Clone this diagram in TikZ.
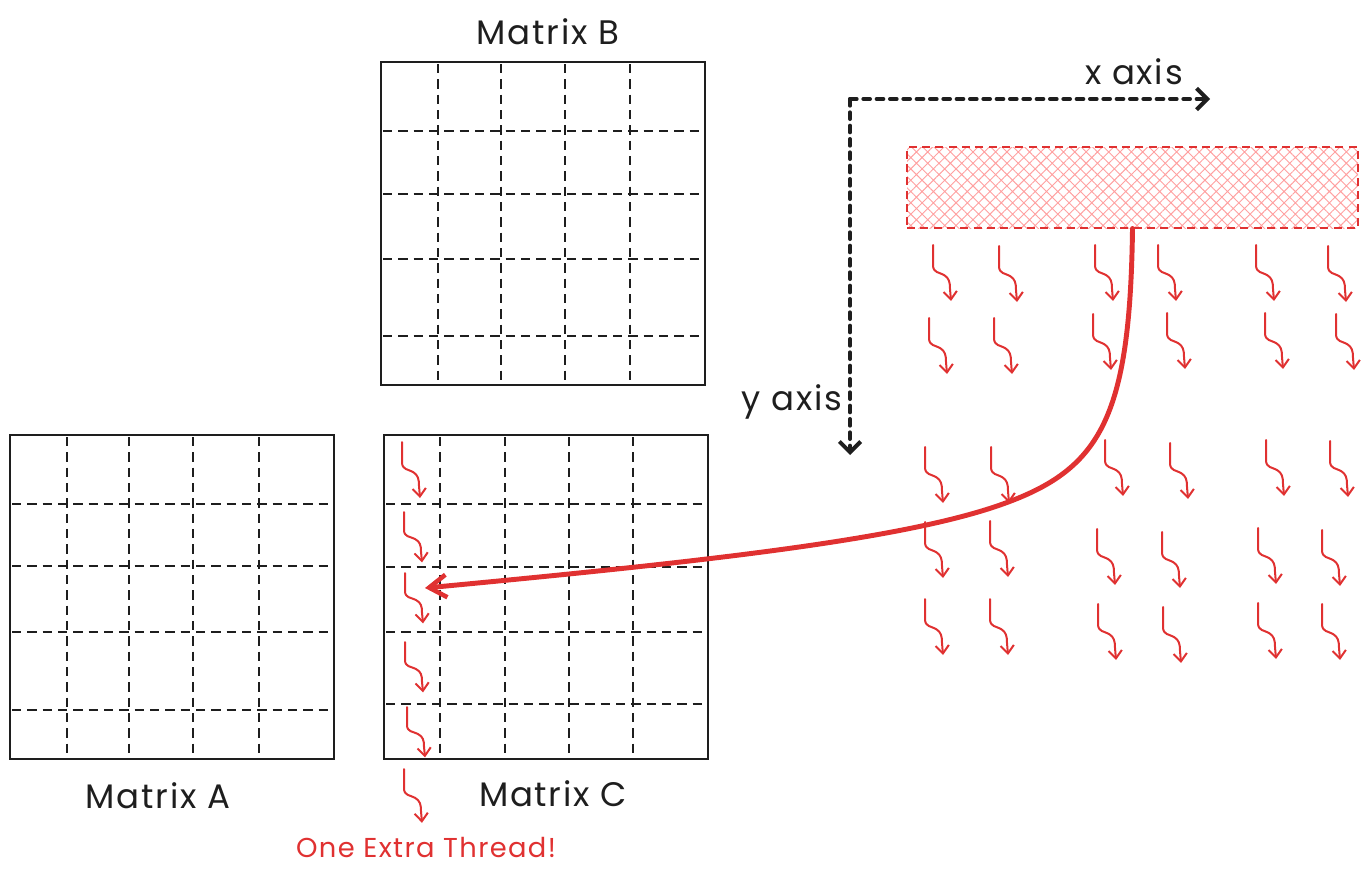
\documentclass[tikz,border=0pt]{standalone}
\usepackage{fontspec}
\setmainfont{Poppins}[LetterSpace=5]
\usetikzlibrary{arrows.meta,patterns.meta,fit}
\definecolor{exred}{HTML}{E03131}
\definecolor{expink}{HTML}{FFA0A0}
\definecolor{exblack}{HTML}{1E1E1E}
\begin{document}
\begin{tikzpicture}[x=0.75pt,y=-0.75pt,
  box/.style={draw=exblack, line width=1.8pt, inner sep=0pt},
  gridline/.style={draw=exblack, line width=1.7pt, dash pattern=on 7pt off 4.5pt},
  axisline/.style={draw=exblack, line width=3pt, dash pattern=on 5pt off 5pt, line cap=round,
    -{Straight Barb[length=8pt,width=16pt,line width=3pt]}},
  thread/.style={draw=exred, line width=1.5pt, line cap=round, line join=round,
    -{Straight Barb[length=6pt,width=10pt,line width=1.5pt]}},
  bigarrow/.style={draw=exred, line width=3.7pt, line cap=round,
    -{Straight Barb[length=13pt,width=17pt,line width=3.4pt]}},
  lbl/.style={font=\fontsize{25.5}{30}\selectfont, text=exblack},
  redlbl/.style={font=\fontsize{20.5}{24}\selectfont, text=exred},
  squig/.pic={\draw[thread] (0,0) -- (0,20) .. controls (0,28) and (6,27) .. (11,30) .. controls (16,33) and (17,37) .. (17,44) -- (18,56);}
]
\useasboundingbox (0,0) rectangle (1369,876);

% Matrix B
\node[box, fit={(381,62)(705,385)}] (B) {};
\foreach \x in {438,501,565,630} \draw[gridline] (\x,64) -- (\x,383);
\foreach \y in {131,194,259,336} \draw[gridline] (383,\y) -- (703,\y);
\node[lbl] (labB) at (548,32) {Matrix B};

% Matrix A
\node[box, fit={(10,435)(334,759)}] (A) {};
\foreach \x in {67,129,193,259} \draw[gridline] (\x,437) -- (\x,757);
\foreach \y in {504,566,632,710} \draw[gridline] (12,\y) -- (332,\y);
\node[lbl] (labA) at (158,796) {Matrix A};

% Matrix C
\node[box, fit={(384,435)(708,759)}] (C) {};
\foreach \x in {440,505,569,633} \draw[gridline] (\x,437) -- (\x,757);
\foreach \y in {504,567,632,704} \draw[gridline] (386,\y) -- (706,\y);
\node[lbl] (labC) at (553,794) {Matrix C};

% threads in matrix C
\pic at (402,442) {squig};
\pic[yscale=0.9] at (404,512) {squig};
\pic[yscale=0.9] at (405,573) {squig};
\pic[yscale=0.9] at (405,642) {squig};
\pic[yscale=0.9] at (407,707) {squig};
\pic[yscale=0.96] at (404,769) {squig};
\node[redlbl] (extra) at (426,847) {One Extra Thread!};

% axes
\coordinate (O) at (850,99);
\coordinate (xend) at (1210,99);
\coordinate (yend) at (850,455);
\draw[axisline] (O) -- (xend);
\draw[axisline] (O) -- (yend);
\node[lbl] (xlab) at (1134,72) {x axis};
\node[lbl] (ylab) at (792,402) {y axis};

% block
\node[fit={(907,147)(1358,228)}, inner sep=0pt, draw=exred, line width=1.6pt,
  dash pattern=on 6pt off 4pt,
  pattern={Hatch[angle=45,distance=6pt,line width=0.7pt]}, pattern color=expink] (block) {};

% thread grid
\foreach \p in {(933,245),(999,246),(1095,245),(1158,245),(1256,245),(1328,246),
                (929,318),(994,318),(1093,314),(1167,313),(1265,313),(1336,314),
                (925,447),(991,447),(1105,440),(1170,443),(1266,440),(1330,441),
                (925,522),(990,521),(1097,529),(1162,532),(1258,528),(1322,530),
                (925,599),(990,599),(1098,604),(1163,607),(1258,603),(1322,604)}
  \pic at \p {squig};

% big arrow
\coordinate (tgt) at (425,588);
\draw[bigarrow] (block.south) .. controls (1130,420) and (1100,470) .. (1000,505)
  .. controls (900,540) and (700,562) .. (tgt);
\end{tikzpicture}
\end{document}
